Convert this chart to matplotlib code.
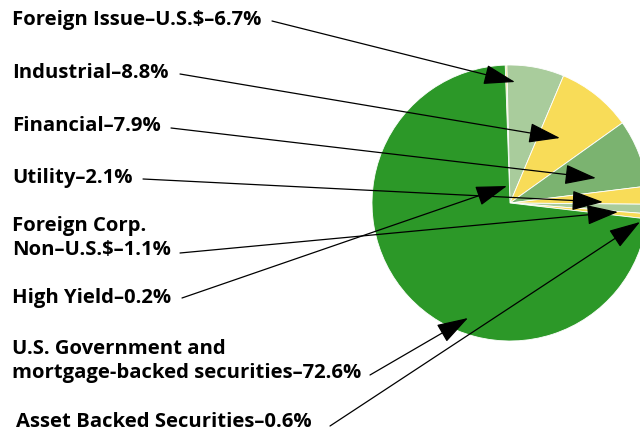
import matplotlib
matplotlib.use("Agg")
import matplotlib.pyplot as plt

# Portfolio breakdown, clockwise from the top
labels = ["High Yield", "Foreign Issue\u2013U.S.$", "Industrial", "Financial",
          "Utility", "Foreign Corp.\nNon\u2013U.S.$", "Asset Backed Securities",
          "U.S. Government and\nmortgage-backed securities"]
values = [0.2, 6.7, 8.8, 7.9, 2.1, 1.1, 0.6, 72.6]
colors = ["#f8dc58", "#a9cc9c", "#f8dc58", "#7bb370",
          "#f8dc58", "#a9cc9c", "#f8dc58", "#2c9828"]

# pie centre / radius in pixels of the 640x433 image
CX, CY, R = 510, 203, 138


def px(x, y):
    # pixel position -> data coords (pie radius = 1)
    return ((x - CX) / R, (CY - y) / R)


# label text position (left, centre y), arrow start, arrow tip  (pixels)
text_pos = [(12, 298), (12, 20), (12, 73), (12, 126), (12, 178), (12, 238),
            (16, 422), (12, 361)]
line_start = [(182, 298), (272, 21), (180, 74), (171, 128), (143, 179),
              (180, 253), (330, 426), (370, 375)]
arrow_tip = [(507, 186), (515, 82), (560, 138), (596, 178), (603, 202),
             (618, 212), (640, 222), (468, 318)]

fig = plt.figure(figsize=(6.4, 4.33), dpi=100)
ax = fig.add_axes([0, 0, 1, 1])

ax.pie(values, colors=colors, startangle=92, counterclock=False,
       radius=1, center=(0, 0),
       wedgeprops=dict(edgecolor="white", linewidth=0.6))

x0, y0 = px(0, 433)
x1, y1 = px(640, 0)
ax.set_xlim(x0, x1)
ax.set_ylim(y0, y1)
ax.set_aspect("equal")
ax.axis("off")

for lab, val, tp, ls, tip in zip(labels, values, text_pos, line_start, arrow_tip):
    tx, ty = px(*tp)
    ax.text(tx, ty, f"{lab}\u2013{val}%", ha="left", va="center",
            fontsize=14.6, fontweight="bold", family="Open Sans",
            linespacing=1.25)
    ax.annotate("", xy=px(*tip), xytext=px(*ls),
                arrowprops=dict(arrowstyle="-|>,head_length=1.1,head_width=0.35",
                                color="black", lw=0.9, mutation_scale=18,
                                shrinkA=0, shrinkB=0),
                annotation_clip=False)

fig.savefig("out.png", dpi=100)
